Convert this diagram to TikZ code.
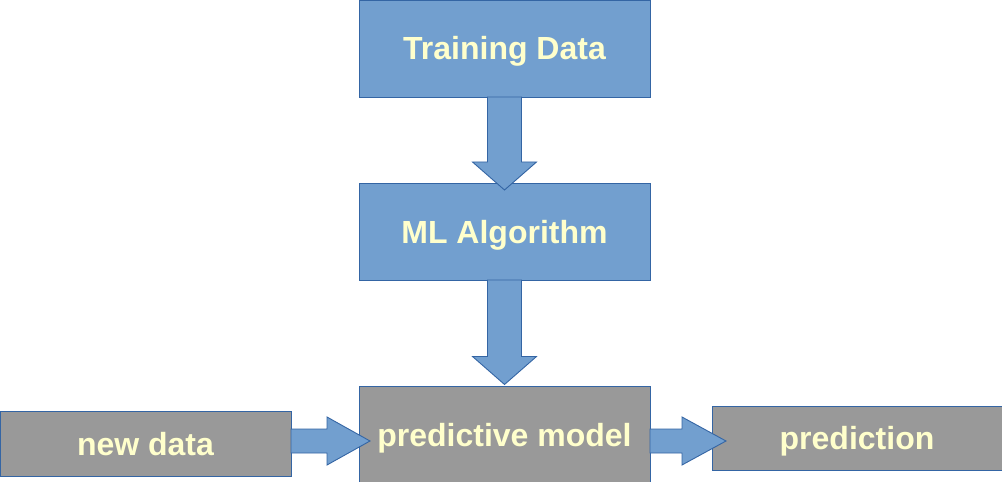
\documentclass[tikz,border=0pt]{standalone}
\usepackage{fontspec}
\setmainfont{Liberation Sans}
\usetikzlibrary{calc}
\definecolor{boxblue}{HTML}{729FCF}
\definecolor{edgeblue}{HTML}{3465A4}
\definecolor{boxgray}{HTML}{999999}
\definecolor{labelcream}{HTML}{FFFFCC}
\begin{document}
\begin{tikzpicture}[x=1bp,y=-1bp,
  stage/.style={rectangle, draw=edgeblue, line width=0.9bp, inner sep=0pt, outer sep=0pt,
    text=labelcream, font=\fontsize{32bp}{38bp}\selectfont\bfseries,
    text height=23bp, text depth=0pt},
  bluebox/.style={stage, fill=boxblue},
  graybox/.style={stage, fill=boxgray},
  blockarrow/.style={fill=boxblue, draw=edgeblue, line width=0.9bp, line join=miter}]
\useasboundingbox (0,0) rectangle (1002,482);

% stages of the workflow
\node[bluebox, minimum width=291bp, minimum height=97bp] (td) at (504.5,48.5) {Training Data};
\node[bluebox, minimum width=291bp, minimum height=96.5bp] (ml) at (504.5,231.75) {ML Algorithm};
\node[graybox, minimum width=291bp, minimum height=97bp] (pm) at (504.5,434.5) {predictive model};
\node[graybox, minimum width=291bp, minimum height=65bp] (nd) at (145.5,443.5) {new data};
\node[graybox, minimum width=290bp, minimum height=64bp] (pr) at (857,438) {prediction};

% block arrow: Training Data -> ML Algorithm
\coordinate (a1s) at (td.south);
\coordinate (a1t) at ($(ml.north)+(0,6.5)$);
\draw[blockarrow] ($(a1s)+(-17,0)$) -- ($(a1t)+(-17,-28)$) -- ($(a1t)+(-32,-28)$) -- (a1t)
  -- ($(a1t)+(32,-28)$) -- ($(a1t)+(17,-28)$) -- ($(a1s)+(17,0)$) -- cycle;

% block arrow: ML Algorithm -> predictive model
\coordinate (a2s) at (ml.south);
\coordinate (a2t) at ($(pm.north)+(0,-1.5)$);
\draw[blockarrow] ($(a2s)+(-17,0)$) -- ($(a2t)+(-17,-28)$) -- ($(a2t)+(-32,-28)$) -- (a2t)
  -- ($(a2t)+(32,-28)$) -- ($(a2t)+(17,-28)$) -- ($(a2s)+(17,0)$) -- cycle;

% block arrow: new data -> predictive model
\coordinate (a3t) at ($(pm.west)+(11,6.5)$);
\coordinate (a3s) at (nd.east |- a3t);
\draw[blockarrow] ($(a3s)+(0,-12)$) -- ($(a3t)+(-43,-12)$) -- ($(a3t)+(-43,-24)$) -- (a3t)
  -- ($(a3t)+(-43,24)$) -- ($(a3t)+(-43,12)$) -- ($(a3s)+(0,12)$) -- cycle;

% block arrow: predictive model -> prediction
\coordinate (a4t) at ($(pr.west)+(14,3)$);
\coordinate (a4s) at (pm.east |- a4t);
\draw[blockarrow] ($(a4s)+(0,-12)$) -- ($(a4t)+(-44,-12)$) -- ($(a4t)+(-44,-24)$) -- (a4t)
  -- ($(a4t)+(-44,24)$) -- ($(a4t)+(-44,12)$) -- ($(a4s)+(0,12)$) -- cycle;
\end{tikzpicture}
\end{document}
